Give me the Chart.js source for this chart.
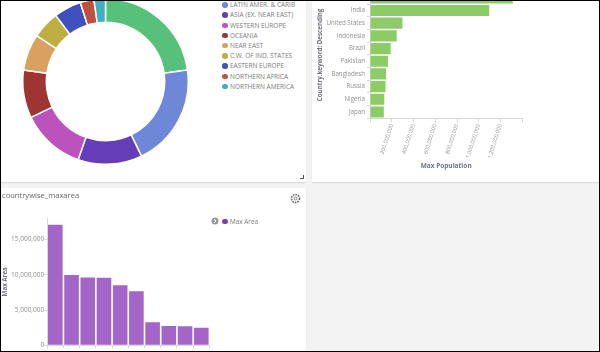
<!DOCTYPE html>
<html lang="en">
<head>
<meta charset="UTF-8">
<title>Country dashboard</title>
<script src="https://cdn.jsdelivr.net/npm/chart.js"></script>
<style>
    html, body { margin: 0; padding: 0; background: #000; }
    body { width: 600px; height: 352px; overflow: hidden; position: relative; font-family: "Open Sans", sans-serif; }
    #page { position: absolute; left: 1px; top: 1px; width: 598px; height: 350px; background: #f3f3f3; overflow: hidden; filter: blur(0.3px); }
    .panel { position: absolute; background: #fff; overflow: hidden; box-shadow: 0 1px 1px #ddd; }
    .panel canvas { position: absolute; }
    #p1 { left: 0; top: 0; width: 305px; height: 181px; }
    #p2 { left: 311px; top: 0; width: 287px; height: 181px; }
    #p3 { left: 0; top: 187px; width: 305px; height: 163px; }
    #regions { position: absolute; left: 221px; top: -11px; margin: 0; padding: 0; list-style: none; font-size: 6.5px; color: #7b7b7b; }
    #regions li { height: 10.2px; line-height: 10.2px; white-space: nowrap; }
    #regions i { display: inline-block; width: 5.5px; height: 5.5px; border-radius: 50%; margin-right: 2.5px; vertical-align: -0.5px; }
    #title { position: absolute; left: 1px; top: 2px; font-size: 7.6px; line-height: 11px; color: #666; }
    #maxkey { position: absolute; left: 221px; top: 29px; font-size: 6.4px; line-height: 9px; color: #777; white-space: nowrap; }
    #maxkey i { display: inline-block; width: 5.5px; height: 5.5px; border-radius: 50%; background: #7b3fb0; margin-right: 2.5px; }
    #handle { position: absolute; left: 299px; top: 174px; width: 3px; height: 3px; border-right: 1px solid #555; border-bottom: 1px solid #555; }
    svg { position: absolute; }
</style>
</head>
<body>
<div id="page">
    <div class="panel" id="p1">
        <canvas id="donut" width="167" height="167" style="left:21px;top:-3px"></canvas>
        <ul id="regions"></ul>
        <div id="handle"></div>
    </div>
    <div class="panel" id="p2">
        <canvas id="popChart" width="287" height="211" style="left:0;top:-31px"></canvas>
    </div>
    <div class="panel" id="p3">
        <canvas id="areaChart" width="305" height="163" style="left:0;top:0"></canvas>
        <div id="title">countrywise_maxarea</div>
        <svg style="left:288px;top:4px" width="13" height="13" viewBox="0 0 13 13">
            <circle cx="6.5" cy="6.5" r="4" fill="none" stroke="#666" stroke-width="1.6" stroke-dasharray="1.6 1"></circle>
            <circle cx="6.5" cy="6.5" r="1.5" fill="none" stroke="#666" stroke-width="0.8"></circle>
        </svg>
        <svg style="left:210px;top:29px" width="8" height="8" viewBox="0 0 8 8">
            <circle cx="4" cy="4" r="3.5" fill="#999"></circle>
            <path d="M3 2 L5 4 L3 6" fill="none" stroke="#fff" stroke-width="1"></path>
        </svg>
        <div id="maxkey"><i></i>Max Area</div>
    </div>
</div>
<script>
    const regions = ['SUB-SAHARAN AFRICA', 'LATIN AMER. & CARIB', 'ASIA (EX. NEAR EAST)', 'WESTERN EUROPE', 'OCEANIA', 'NEAR EAST', 'C.W. OF IND. STATES', 'EASTERN EUROPE', 'NORTHERN AFRICA', 'NORTHERN AMERICA'];
    const regionCounts = [51, 45, 28, 28, 21, 16, 12, 12, 6, 5];
    const regionColors = ['#57c17b', '#6f87d8', '#663db8', '#bc52bc', '#9e3533', '#daa05d', '#bfaf40', '#4050bf', '#bf5040', '#40afbf'];

    const popCountries = ['China', 'India', 'United States', 'Indonesia', 'Brazil', 'Pakistan', 'Bangladesh', 'Russia', 'Nigeria', 'Japan'];
    const popValues = [1313000000, 1096000000, 298000000, 245000000, 190000000, 165000000, 147000000, 143000000, 131000000, 127000000];
    const popTickLabels = ['', '200,000,000', '400,000,000', '600,000,000', '800,000,000', '1,000,000,000', '1,200,000,000', ''];

    const areaCountries = ['Russia', 'Canada', 'United States', 'China', 'Brazil', 'Australia', 'India', 'Argentina', 'Kazakhstan', 'Sudan'];
    const areaValues = [17075000, 9950000, 9600000, 9580000, 8500000, 7650000, 3250000, 2750000, 2700000, 2480000];
    const areaTicks = [0, 5000000, 10000000, 15000000];
    const areaTickLabels = ['0', '5,000,000', '10,000,000', '15,000,000'];

    const tickGrey = '#8f8f8f';
    const lineGrey = '#d8d8d8';
    const titleGrey = '#6f7480';
    const family = '"Open Sans", sans-serif';

    document.getElementById('regions').innerHTML = regions.map((r, i) =>
        '<li><i style="background:' + regionColors[i] + '"></i>' + r.replace('&', '&amp;') + '</li>').join('');

    new Chart(document.getElementById('donut'), {
        type: 'doughnut',
        data: {
            labels: regions,
            datasets: [{ data: regionCounts, backgroundColor: regionColors, borderColor: '#fff', borderWidth: 1.5 }]
        },
        options: {
            responsive: false,
            animation: false,
            cutout: '71.5%',
            plugins: { legend: { display: false }, tooltip: { enabled: false } }
        }
    });

    new Chart(document.getElementById('popChart'), {
        type: 'bar',
        data: {
            labels: popCountries,
            datasets: [{ data: popValues, backgroundColor: '#8ccb66', barPercentage: 0.88, categoryPercentage: 1 }]
        },
        options: {
            indexAxis: 'y',
            responsive: false,
            animation: false,
            layout: { padding: { top: 21.5, right: 76.7 } },
            plugins: { legend: { display: false }, tooltip: { enabled: false } },
            scales: {
                x: {
                    min: 0,
                    max: 1400000000,
                    grid: { drawOnChartArea: false, tickLength: 4, color: lineGrey },
                    border: { color: lineGrey },
                    ticks: {
                        stepSize: 200000000,
                        autoSkip: false,
                        minRotation: 72,
                        maxRotation: 72,
                        padding: 1,
                        color: tickGrey,
                        font: { family: family, size: 5.5 },
                        callback: (v, i) => popTickLabels[i]
                    },
                    title: { display: true, text: 'Max Population', color: titleGrey, font: { family: family, size: 6.5, weight: 'bold' }, padding: { top: 0, bottom: 11 } },
                    afterFit: s => { s.height = 62.7; }
                },
                y: {
                    grid: { drawOnChartArea: false, tickLength: 3, color: lineGrey },
                    border: { color: lineGrey },
                    ticks: { autoSkip: false, padding: 2, color: tickGrey, font: { family: family, size: 6.2 } },
                    title: { display: true, text: 'Country.keyword: Descending', color: titleGrey, font: { family: family, size: 6.2, weight: 'bold' }, padding: { top: 4.3, bottom: 0 } },
                    afterFit: s => { s.width = 58; }
                }
            }
        }
    });

    new Chart(document.getElementById('areaChart'), {
        type: 'bar',
        data: {
            labels: areaCountries,
            datasets: [{ data: areaValues, backgroundColor: '#a366c8', barPercentage: 0.9, categoryPercentage: 1 }]
        },
        options: {
            responsive: false,
            animation: false,
            layout: { padding: { top: 30.3, right: 96.6 } },
            plugins: { legend: { display: false }, tooltip: { enabled: false } },
            scales: {
                x: {
                    grid: { drawOnChartArea: false, tickLength: 3, color: lineGrey },
                    border: { color: lineGrey },
                    ticks: { display: false },
                    afterFit: s => { s.height = 5.7; }
                },
                y: {
                    min: 0,
                    max: 18000000,
                    afterBuildTicks: s => { s.ticks = areaTicks.map(v => ({ value: v })); },
                    grid: { drawOnChartArea: false, tickLength: 3, color: lineGrey },
                    border: { color: lineGrey },
                    ticks: { padding: 0, color: tickGrey, font: { family: family, size: 6.5 }, callback: (v, i) => areaTickLabels[i] },
                    title: { display: true, text: 'Max Area', color: titleGrey, font: { family: family, size: 6.2, weight: 'bold' }, padding: { top: 0.5, bottom: 0 } },
                    afterFit: s => { s.width = 46.2; }
                }
            }
        }
    });
</script>
</body>
</html>
